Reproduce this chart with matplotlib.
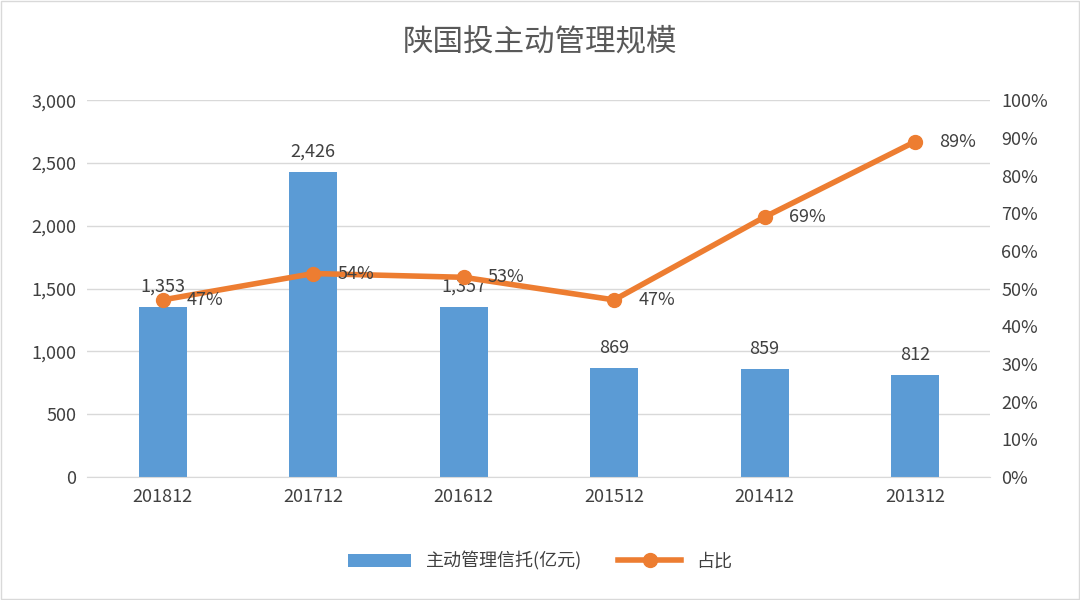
import matplotlib.pyplot as plt
from matplotlib.patches import Rectangle

plt.rcParams["font.family"] = ["Noto Sans CJK SC", "DejaVu Sans"]

categories = ["201812", "201712", "201612", "201512", "201412", "201312"]
scale = [1353, 2426, 1357, 869, 859, 812]
share = [47, 54, 53, 47, 69, 89]

BLUE = "#5b9bd5"
ORANGE = "#ed7d31"
TXT = "#404040"

fig = plt.figure(figsize=(10.8, 6.0), dpi=100)
fig.patches.append(Rectangle((0.001, 0.001), 0.998, 0.998, transform=fig.transFigure,
                             fill=False, edgecolor="#d9d9d9", linewidth=1))
ax = fig.add_axes([0.081, 0.205, 0.836, 0.628])
ax2 = ax.twinx()

x = list(range(len(categories)))
ax.bar(x, scale, width=0.32, color=BLUE, zorder=2, label="主动管理信托(亿元)")
for xi, v in zip(x, scale):
    ax.text(xi, v + 90, f"{v:,}", ha="center", va="bottom", fontsize=13, color=TXT)
ax.set_ylim(0, 3000)
ax.set_yticks(range(0, 3001, 500))
ax.set_yticklabels([f"{t:,}" for t in range(0, 3001, 500)])
ax.set_xlim(-0.5, len(categories) - 0.5)
ax.set_xticks(x)
ax.set_xticklabels(categories)
ax.grid(axis="y", color="#d9d9d9", linewidth=1, zorder=0)
ax.set_axisbelow(True)

ax2.plot(x, share, color=ORANGE, linewidth=4, marker="o", markersize=10, zorder=3, label="占比")
for xi, v in zip(x, share):
    ax2.text(xi + 0.16, v, f"{v}%", ha="left", va="center", fontsize=13, color=TXT)
ax2.set_ylim(0, 100)
ax2.set_yticks(range(0, 101, 10))
ax2.set_yticklabels([f"{t}%" for t in range(0, 101, 10)])

for a in (ax, ax2):
    for s in a.spines.values():
        s.set_visible(False)
    a.tick_params(length=0, labelsize=13, colors=TXT, pad=8)
ax.spines["bottom"].set_visible(True)
ax.spines["bottom"].set_color("#d9d9d9")

fig.text(0.5, 0.93, "陕国投主动管理规模", ha="center", va="center", fontsize=22, color="#595959")
h1, l1 = ax.get_legend_handles_labels()
h2, l2 = ax2.get_legend_handles_labels()
fig.legend(h1 + h2, l1 + l2, loc="center", bbox_to_anchor=(0.5, 0.065), ncol=2,
           frameon=False, fontsize=13, labelcolor=TXT, handlelength=3.5)

fig.savefig("out.png")
